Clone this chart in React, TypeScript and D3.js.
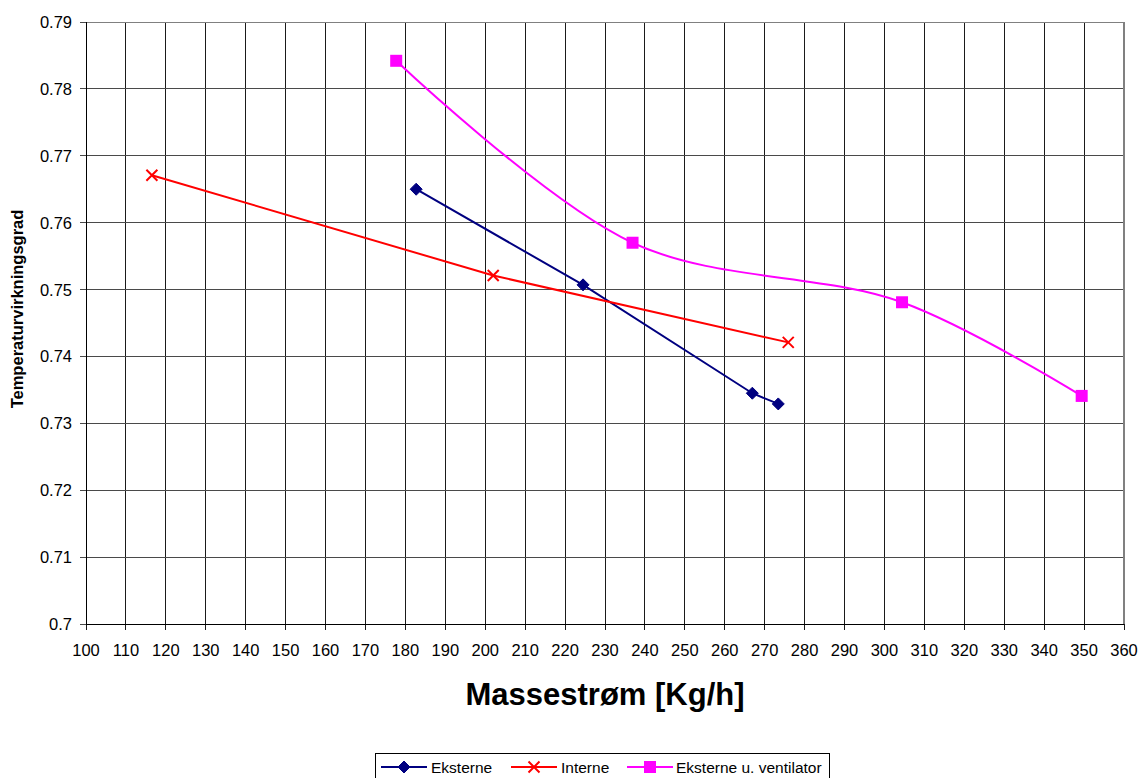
import React from "react";
import * as d3 from "d3";

const xTicks = d3.range(100, 361, 10);
const yTicks = [0.7, 0.71, 0.72, 0.73, 0.74, 0.75, 0.76, 0.77, 0.78, 0.79];

const eksterneX = [182.7, 224.5, 266.9, 273.4];
const eksterneY = [0.765, 0.7507, 0.7345, 0.7329];
const interneX = [116.5, 202.0, 275.9];
const interneY = [0.7671, 0.7521, 0.7421];
const ventX = [177.7, 236.9, 304.4, 349.4];
const ventY = [0.7842, 0.757, 0.7481, 0.7341];

const seriesNames = ["Eksterne", "Interne", "Eksterne u. ventilator"];
const colors = ["#000080", "#FF0000", "#FF00FF"];

const W = 1142, H = 778;
const L = 86, R = 1124, T = 22, B = 624;
const FONT = "'Liberation Sans', Arial, sans-serif";

function Marker({ kind, x, y, color }: { kind: string; x: number; y: number; color: string }) {
  if (kind === "diamond") {
    const s = 6;
    return <path d={`M${x},${y - s}L${x + s},${y}L${x},${y + s}L${x - s},${y}Z`} fill={color} stroke={color} strokeWidth={1} />;
  }
  if (kind === "x") {
    const s = 5.5;
    return <path d={`M${x - s},${y - s}L${x + s},${y + s}M${x - s},${y + s}L${x + s},${y - s}`} stroke={color} strokeWidth={2} fill="none" />;
  }
  const s = 6;
  return <rect x={x - s} y={y - s} width={2 * s} height={2 * s} fill={color} />;
}

export default function App() {
  const x = d3.scaleLinear().domain([100, 360]).range([L, R]);
  const y = d3.scaleLinear().domain([0.7, 0.79]).range([B, T]);

  const straight = d3.line<[number, number]>().x(d => x(d[0])).y(d => y(d[1]));
  const smooth = d3.line<[number, number]>().x(d => x(d[0])).y(d => y(d[1])).curve(d3.curveCatmullRom.alpha(0.5));

  const ePts = eksterneX.map((v, i) => [v, eksterneY[i]] as [number, number]);
  const iPts = interneX.map((v, i) => [v, interneY[i]] as [number, number]);
  const vPts = ventX.map((v, i) => [v, ventY[i]] as [number, number]);

  const legendItems = [
    { name: seriesNames[0], color: colors[0], kind: "diamond", lx: 381, tx: 431 },
    { name: seriesNames[1], color: colors[1], kind: "x", lx: 511, tx: 561 },
    { name: seriesNames[2], color: colors[2], kind: "square", lx: 627, tx: 676 },
  ];

  return (
    <div style={{ position: "absolute", left: 0, top: 0 }}>
      <svg width={W} height={H} style={{ display: "block", background: "#fff" }} fontFamily={FONT}>
        {/* grid */}
        <g shapeRendering="crispEdges">
          {xTicks.map(t => (
            <line key={"gx" + t} x1={x(t)} x2={x(t)} y1={T} y2={B + 6} stroke="#1a1a1a" strokeWidth={1} />
          ))}
          {yTicks.map(t => (
            <line key={"gy" + t} x1={L - 6} x2={R} y1={y(t)} y2={y(t)} stroke="#4a4a4a" strokeWidth={1} />
          ))}
          <line x1={R} x2={R} y1={T} y2={B} stroke="#808080" strokeWidth={2} />
          <line x1={L} x2={R} y1={T} y2={T} stroke="#808080" strokeWidth={1} />
          <line x1={L} x2={L} y1={T} y2={B} stroke="#000" strokeWidth={1} />
          <line x1={L} x2={R} y1={B} y2={B} stroke="#000" strokeWidth={1} />
        </g>
        {/* tick labels */}
        {yTicks.map(t => (
          <text key={"yl" + t} x={72} y={y(t) + 6} textAnchor="end" fontSize={16.5} fill="#000">
            {String(+t.toFixed(2))}
          </text>
        ))}
        {xTicks.map(t => (
          <text key={"xl" + t} x={x(t)} y={656} textAnchor="middle" fontSize={16.5} fill="#000">
            {t}
          </text>
        ))}
        {/* axis titles */}
        <text x={605} y={705} textAnchor="middle" fontSize={31} fontWeight="bold">Massestrøm [Kg/h]</text>
        <text transform={`translate(23,309) rotate(-90)`} textAnchor="middle" fontSize={16.5} fontWeight="bold">
          Temperaturvirkningsgrad
        </text>
        {/* series */}
        <path d={straight(ePts) || ""} fill="none" stroke={colors[0]} strokeWidth={2} />
        <path d={straight(iPts) || ""} fill="none" stroke={colors[1]} strokeWidth={2} />
        <path d={smooth(vPts) || ""} fill="none" stroke={colors[2]} strokeWidth={2} />
        {ePts.map((p, i) => <Marker key={"e" + i} kind="diamond" x={x(p[0])} y={y(p[1])} color={colors[0]} />)}
        {iPts.map((p, i) => <Marker key={"i" + i} kind="x" x={x(p[0])} y={y(p[1])} color={colors[1]} />)}
        {vPts.map((p, i) => <Marker key={"v" + i} kind="square" x={x(p[0])} y={y(p[1])} color={colors[2]} />)}
        {/* legend */}
        <rect x={375.5} y={753.5} width={454} height={26} fill="#fff" stroke="#000" strokeWidth={1} />
        {legendItems.map(it => (
          <g key={it.name}>
            <line x1={it.lx} x2={it.lx + 46} y1={767} y2={767} stroke={it.color} strokeWidth={2} />
            <Marker kind={it.kind} x={it.lx + 23} y={767} color={it.color} />
            <text x={it.tx} y={773} fontSize={15.5} fill="#000">{it.name}</text>
          </g>
        ))}
      </svg>
    </div>
  );
}
